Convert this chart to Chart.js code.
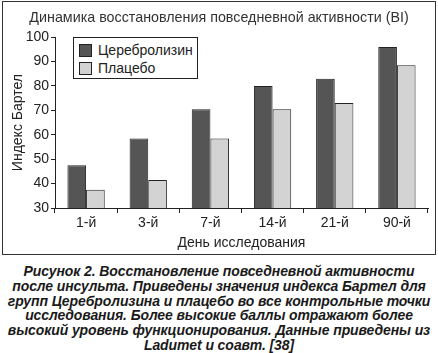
<!DOCTYPE html>
<html>
<head>
<meta charset="utf-8">
<script src="https://cdn.jsdelivr.net/npm/chart.js@4"></script>
<style>
  body { margin: 0; background: #fff; width: 438px; height: 353px; position: relative; overflow: hidden; }
  #frame { position: absolute; left: 2px; top: 1px; width: 432px; height: 252px; border: 1px solid #333; }
  #chartBox { position: absolute; left: 0; top: 0; width: 438px; height: 260px; }
  #legend { position: absolute; left: 73px; top: 37px; width: 123px; height: 40px; border: 1px solid #222; background: #fff;
            font-family: "Liberation Sans", Arial, sans-serif; font-size: 14px; color: #222; }
  .legend-item { display: flex; align-items: center; height: 18px; margin-left: 5px; }
  .legend-item:first-child { margin-top: 3px; }
  .swatch { width: 11px; height: 11px; border: 1px solid #222; margin-right: 6px; }
  #caption { position: absolute; left: 0; top: 264px; width: 438px; text-align: center;
             font-family: "Liberation Sans", Arial, sans-serif; font-weight: bold; font-style: italic;
             font-size: 14px; line-height: 14.8px; color: #1a1a1a; letter-spacing: -0.1px; }
</style>
</head>
<body>
<div id="frame"></div>
<div id="chartBox"><canvas id="BarGraph" width="438" height="260"></canvas></div>
<div id="legend"></div>
<div id="caption">Рисунок 2. Восстановление повседневной активности<br>после инсульта. Приведены значения индекса Бартел для<br>групп Церебролизина и плацебо во все контрольные точки<br>исследования. Более высокие баллы отражают более<br>высокий уровень функционирования. Данные приведены из<br>Ladumet и соавт. [38]</div>
<script>
const days = ["1-й", "3-й", "7-й", "14-й", "21-й", "90-й"];
const cerebrolysin = [47.5, 58.5, 70.5, 80, 83, 96];
const placebo = [37.5, 41.5, 58.5, 70.5, 73, 88.5];
const seriesNames = ["Церебролизин", "Плацебо"];
const seriesColors = ["#555555", "#d3d3d3"];

const fontFamily = '"Liberation Sans", Arial, sans-serif';

const ctx = document.getElementById("BarGraph").getContext("2d");
const barGraph = new Chart(ctx, {
  type: "bar",
  data: {
    labels: days,
    datasets: [
      { label: seriesNames[0], data: cerebrolysin, backgroundColor: seriesColors[0], borderColor: "#222", borderWidth: 1 },
      { label: seriesNames[1], data: placebo, backgroundColor: seriesColors[1], borderColor: "#222", borderWidth: 1 },
    ],
  },
  options: {
    responsive: false,
    animation: false,
    layout: { padding: { left: 10, right: 10, top: 0, bottom: 4 } },
    datasets: { bar: { categoryPercentage: 0.6, barPercentage: 1 } },
    plugins: {
      legend: { display: false },
      tooltip: { enabled: false },
      title: {
        display: true,
        text: "Динамика восстановления повседневной активности (BI)",
        color: "#333",
        font: { family: fontFamily, size: 14.3, weight: "normal" },
        padding: { top: 9, bottom: 11 },
      },
    },
    scales: {
      x: {
        grid: { drawOnChartArea: false, color: "#222", tickLength: 5, offset: true },
        border: { color: "#222" },
        ticks: { color: "#222", font: { family: fontFamily, size: 14 }, padding: 2 },
        title: { display: true, text: "День исследования", color: "#222", font: { family: fontFamily, size: 14 }, padding: { top: 3 } },
        afterFit: (scale) => { scale.height = 48; },
      },
      y: {
        min: 30,
        max: 100,
        grid: { drawOnChartArea: false, color: "#222", tickLength: 4 },
        border: { color: "#222" },
        ticks: { stepSize: 10, color: "#222", font: { family: fontFamily, size: 14 }, padding: 2 },
        title: { display: true, text: "Индекс Бартел", color: "#222", font: { family: fontFamily, size: 14 }, padding: 0 },
        afterFit: (scale) => { scale.width = 45; },
      },
    },
  },
});

// Legend drawn inside the plot area, like the original figure
const legendBox = document.getElementById("legend");
barGraph.data.datasets.forEach(function(ds) {
  const item = document.createElement("div");
  item.classList.add("legend-item");
  const sw = document.createElement("div");
  sw.classList.add("swatch");
  sw.style.background = ds.backgroundColor;
  item.appendChild(sw);
  const txt = document.createElement("span");
  txt.textContent = ds.label;
  item.appendChild(txt);
  legendBox.appendChild(item);
});
</script>
</body>
</html>
